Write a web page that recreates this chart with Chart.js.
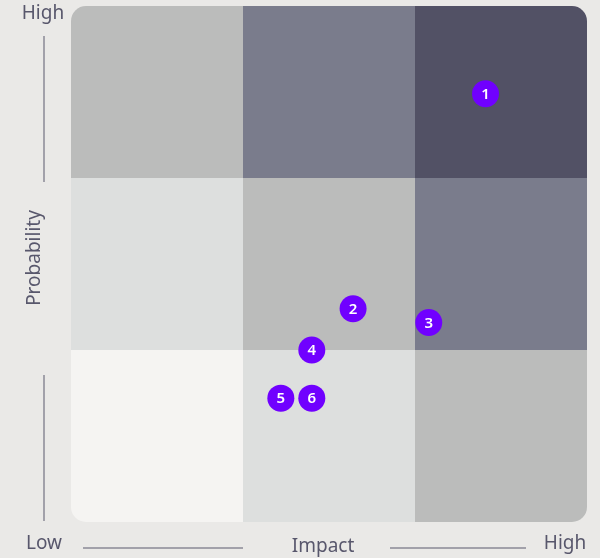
<!DOCTYPE html>
<html>
<head>
<meta charset="utf-8">
<script src="https://cdn.jsdelivr.net/npm/chart.js@4.4.1/dist/chart.umd.min.js"></script>
<style>
  html, body { margin: 0; padding: 0; background: #eae9e7; }
  #wrap { width: 600px; height: 558px; }
</style>
</head>
<body>
<div id="wrap"><canvas id="riskChart" width="600" height="558"></canvas></div>
<script>
// risk items
const riskIds = ["1", "2", "3", "4", "5", "6"];
const impactValues = [2.41, 1.64, 2.08, 1.40, 1.22, 1.40];
const probabilityValues = [2.49, 1.24, 1.16, 1.00, 0.72, 0.72];

// severity level per cell, rows from low probability to high, columns low to high impact
const cellLevels = [
    [0, 1, 2],
    [1, 2, 3],
    [2, 3, 4],
];
const levelColors = ["#f5f4f2", "#dddfde", "#bbbcbb", "#7a7c8c", "#525165"];

const labelColor = "#58576c";
const labelFont = '19px "Noto Sans", "Open Sans", sans-serif';

const points = riskIds.map((id, i) => ({ x: impactValues[i], y: probabilityValues[i] }));

const matrixPlugin = {
    id: "matrix",
    beforeDatasetsDraw(chart) {
        const { ctx, chartArea: a, scales } = chart;
        ctx.save();
        ctx.beginPath();
        ctx.roundRect(a.left, a.top, a.right - a.left, a.bottom - a.top, 15);
        ctx.clip();
        for (let r = 0; r < cellLevels.length; r++) {
            for (let c = 0; c < cellLevels[r].length; c++) {
                const x0 = scales.x.getPixelForValue(c);
                const x1 = scales.x.getPixelForValue(c + 1);
                const y0 = scales.y.getPixelForValue(r + 1);
                const y1 = scales.y.getPixelForValue(r);
                ctx.fillStyle = levelColors[cellLevels[r][c]];
                ctx.fillRect(x0, y0, x1 - x0, y1 - y0);
            }
        }
        ctx.restore();
    },
    afterDatasetsDraw(chart) {
        const { ctx } = chart;
        const meta = chart.getDatasetMeta(0);
        ctx.save();
        ctx.fillStyle = "#ffffff";
        ctx.font = '600 15px "Noto Sans", "Open Sans", sans-serif';
        ctx.textAlign = "center";
        ctx.textBaseline = "middle";
        meta.data.forEach((pt, i) => {
            ctx.fillText(riskIds[i], pt.x, pt.y + 1);
        });
        ctx.restore();
    },
    afterDraw(chart) {
        const { ctx } = chart;
        ctx.save();
        ctx.fillStyle = labelColor;
        ctx.strokeStyle = "#8a8996";
        ctx.lineWidth = 1.5;
        ctx.font = labelFont;
        ctx.textBaseline = "middle";
        ctx.textAlign = "center";
        // left axis
        ctx.fillText("High", 43, 14);
        ctx.beginPath();
        ctx.moveTo(44, 36); ctx.lineTo(44, 182);
        ctx.moveTo(44, 375); ctx.lineTo(44, 521);
        ctx.stroke();
        ctx.save();
        ctx.translate(35, 258);
        ctx.rotate(-Math.PI / 2);
        ctx.fillText("Probability", 0, 0);
        ctx.restore();
        // bottom axis
        ctx.fillText("Low", 44, 544);
        ctx.fillText("Impact", 323, 547);
        ctx.fillText("High", 565, 544);
        ctx.beginPath();
        ctx.moveTo(83, 548); ctx.lineTo(243, 548);
        ctx.moveTo(390, 548); ctx.lineTo(526, 548);
        ctx.stroke();
        ctx.restore();
    },
};

new Chart(document.getElementById("riskChart"), {
    type: "scatter",
    data: {
        datasets: [
            {
                data: points,
                backgroundColor: "#7000ff",
                borderWidth: 0,
                pointRadius: 13.5,
                pointHoverRadius: 13.5,
            },
        ],
    },
    options: {
        responsive: false,
        animation: false,
        layout: {
            autoPadding: false,
            padding: { left: 71, right: 13, top: 6, bottom: 36 },
        },
        scales: {
            x: { min: 0, max: 3, display: false },
            y: { min: 0, max: 3, display: false },
        },
        plugins: {
            legend: { display: false },
            tooltip: { enabled: false },
        },
    },
    plugins: [matrixPlugin],
});
</script>
</body>
</html>
